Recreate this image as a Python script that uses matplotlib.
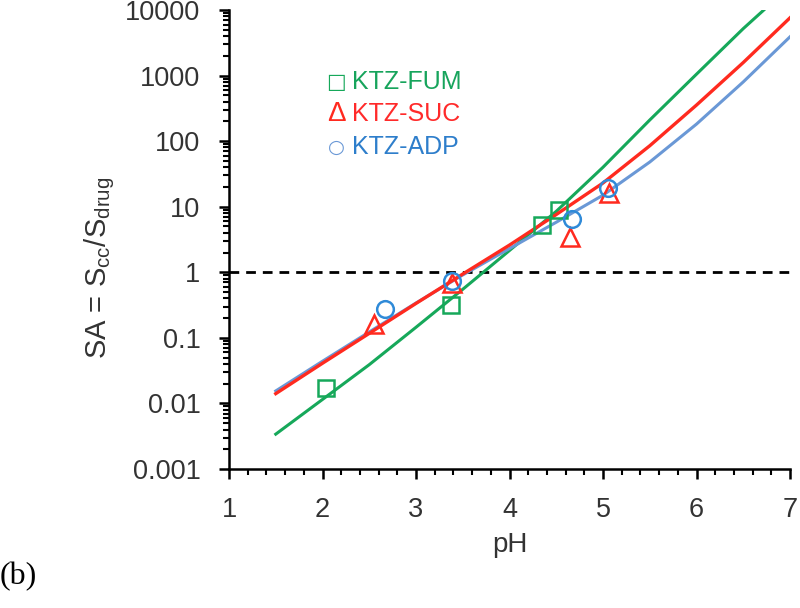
import numpy as np
import matplotlib
matplotlib.use("Agg")
import matplotlib.pyplot as plt
from matplotlib.ticker import MultipleLocator, LogLocator, FixedLocator

plt.rcParams["font.family"] = ["Liberation Sans", "DejaVu Sans"]

# measured points (pH, SA)
fum_ph = [2.04, 3.37, 4.35, 4.53]
fum_sa = [0.017, 0.32, 5.2, 8.8]
suc_ph = [2.55, 3.39, 4.65, 5.06]
suc_sa = [0.165, 0.68, 3.5, 16]
adp_ph = [2.67, 3.39, 4.67, 5.05]
adp_sa = [0.28, 0.73, 6.4, 19]

# model curves
fum_line_ph = [1.5, 2.0, 2.5, 3.0, 3.5, 4.0, 4.5, 5.0, 5.5, 6.0, 6.5, 6.72]
fum_line_sa = [0.0034, 0.0115, 0.039, 0.145, 0.55, 2.15, 8.5, 40, 210, 1050, 5200, 10000]
suc_line_ph = [1.5, 2.0, 2.5, 3.0, 3.5, 4.0, 4.5, 5.0, 5.5, 6.0, 6.5, 7.0]
suc_line_sa = [0.0141, 0.041, 0.117, 0.335, 0.94, 2.6, 7.6, 23, 85, 355, 1580, 7600]
adp_line_ph = [1.5, 2.0, 2.5, 3.0, 3.5, 4.0, 4.5, 5.0, 5.5, 6.0, 6.5, 7.0]
adp_line_sa = [0.0155, 0.044, 0.123, 0.34, 0.91, 2.3, 5.8, 15, 48, 182, 800, 3900]

tick_labels = ["0.001", "0.01", "0.1", "1", "10", "100", "1000", "10000"]

GREEN = "#16a85a"
RED = "#ff2a1f"
BLUE_LINE = "#6a98d6"
BLUE = "#2f8ad8"
TXT = "#333333"

W, H = 800, 608
fig = plt.figure(figsize=(W / 100, H / 100), dpi=100)
ax = fig.add_axes([229 / W, 139 / H, 561 / W, 459 / H])

ax.axhline(1, color="black", lw=2, ls=(0, (3.5, 2.5)), zorder=1)
ax.plot(fum_line_ph, fum_line_sa, color=GREEN, lw=2.2, zorder=2)
ax.plot(adp_line_ph, adp_line_sa, color=BLUE_LINE, lw=2.2, zorder=2)
ax.plot(suc_line_ph, suc_line_sa, color=RED, lw=2.4, zorder=3)

ax.plot(fum_ph, fum_sa, ls="none", marker="s", ms=11, mfc="none", mec=GREEN, mew=1.8, zorder=4)
ax.plot(suc_ph, suc_sa, ls="none", marker="^", ms=13, mfc="none", mec=RED, mew=1.8, zorder=4)
ax.plot(adp_ph, adp_sa, ls="none", marker="o", ms=12, mfc="none", mec=BLUE, mew=1.8, zorder=4)

ax.set_yscale("log")
ax.set_xlim(1, 7)
ax.set_ylim(0.001, 10000)
ax.xaxis.set_major_locator(MultipleLocator(1))
ax.xaxis.set_minor_locator(MultipleLocator(0.2))
ax.yaxis.set_major_locator(FixedLocator([10.0 ** k for k in range(-3, 5)]))
ax.yaxis.set_minor_locator(LogLocator(base=10, subs=np.arange(2, 10), numticks=20))
ax.set_yticklabels(tick_labels)

for s in ("top", "right"):
    ax.spines[s].set_visible(False)
for s in ("left", "bottom"):
    ax.spines[s].set_linewidth(1.8)
ax.tick_params(which="major", direction="out", length=7, width=1.8, labelsize=19.5, pad=13.5, labelcolor=TXT)
ax.tick_params(which="minor", direction="out", length=4.5, width=1.5)

fig.text(510 / W, 1 - 545 / H, "pH", fontsize=20, color=TXT, ha="center", va="center")
fig.text(100 / W, 1 - 268 / H, r"SA = S$_{\mathregular{cc}}$/S$_{\mathregular{drug}}$",
         fontsize=21, color=TXT, rotation=90, ha="center", va="center")

# legend drawn as text
leg = [("\u25a1", "KTZ-FUM", GREEN, "#17a45c", 82, 15, "DejaVu Sans"),
       ("\u0394", "KTZ-SUC", RED, "#ff2a2a", 114, 20, "Liberation Sans"),
       ("\u25cb", "KTZ-ADP", BLUE_LINE, "#2e7ecb", 147, 14, "DejaVu Sans")]
for sym, name, csym, ctxt, ypix, fs, fam in leg:
    fig.text(336 / W, 1 - ypix / H, sym, color=csym, fontsize=fs, va="center", ha="center", family=fam)
    fig.text(352 / W, 1 - ypix / H, name, color=ctxt, fontsize=18, va="center", ha="left")

fig.text(0 / W, 1 - 577 / H, "(b)", fontsize=23, family="Liberation Serif", va="center", ha="left")

fig.savefig("out.png", dpi=100)
